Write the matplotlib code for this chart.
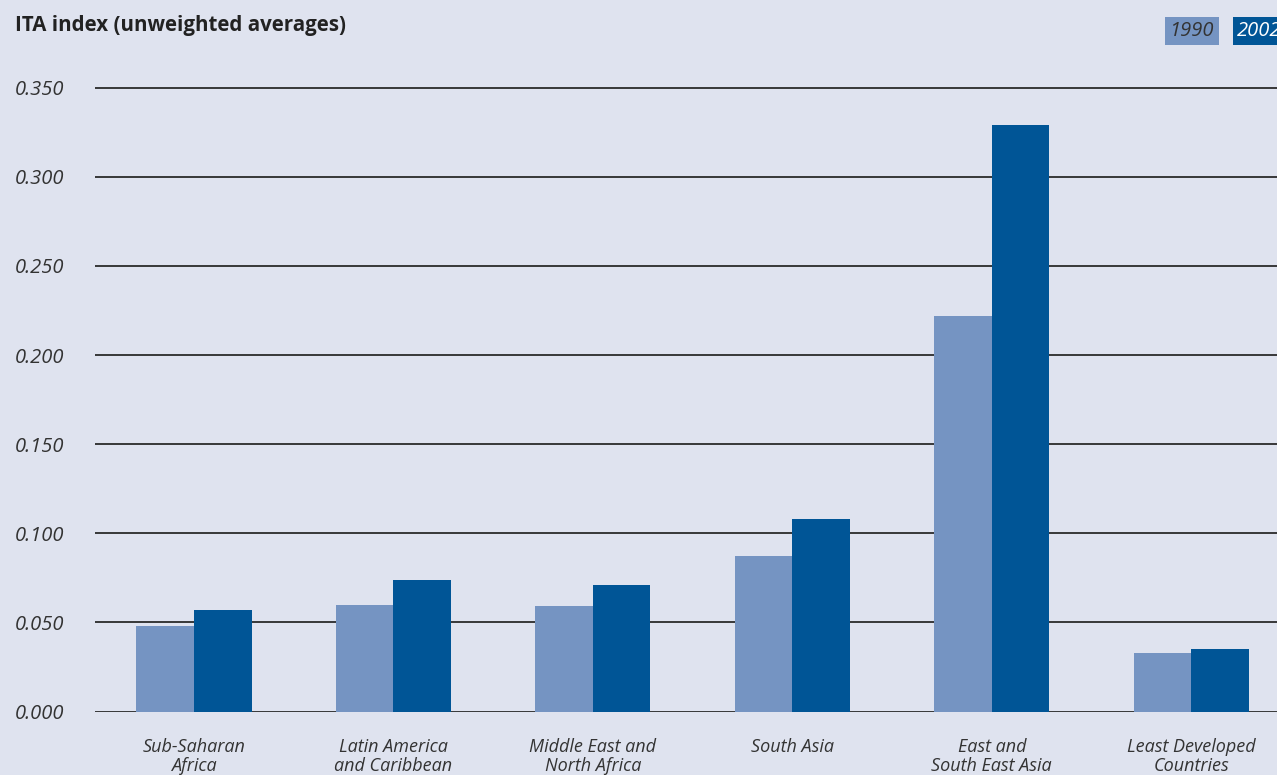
import matplotlib.pyplot as plt
from matplotlib.patches import Rectangle
import numpy as np

categories = ["Sub-Saharan\nAfrica", "Latin America\nand Caribbean", "Middle East and\nNorth Africa",
              "South Asia", "East and\nSouth East Asia", "Least Developed\nCountries"]
ita_1990 = [0.048, 0.060, 0.059, 0.087, 0.222, 0.033]
ita_2002 = [0.057, 0.074, 0.071, 0.108, 0.329, 0.035]
yticks = [0.0, 0.05, 0.10, 0.15, 0.20, 0.25, 0.30, 0.35]
ytick_labels = ["0.000", "0.050", "0.100", "0.150", "0.200", "0.250", "0.300", "0.350"]

bg = "#dfe3ef"
c1990 = "#7594c2"
c2002 = "#005596"
txt = "#333333"

plt.rcParams['font.family'] = ['Open Sans', 'DejaVu Sans']

W, H = 1277, 775
fig = plt.figure(figsize=(W / 100, H / 100), dpi=100, facecolor=bg)
ymax = 0.355
top_px = 711.5 - ymax * 1782
ax = fig.add_axes([95 / W, 1 - 711.5 / H, 1 - 95 / W, (711.5 - top_px) / H])
ax.set_facecolor(bg)

x = np.arange(len(categories))
w = 0.289
ax.bar(x - w / 2, ita_1990, w, color=c1990, zorder=3)
ax.bar(x + w / 2, ita_2002, w, color=c2002, zorder=3)

for t in yticks:
    ax.axhline(t, color="#2a2a2a", lw=1.3, zorder=1)

ax.set_xlim(-0.496, 5.43)
ax.set_ylim(0, ymax)
for s in ax.spines.values():
    s.set_visible(False)

ax.set_yticks(yticks)
ax.set_yticklabels(ytick_labels, fontsize=14.5, style='italic', color=txt, ha='left')
ax.tick_params(axis='y', length=0, pad=80 * 0.72)
ax.set_xticks(x)
ax.set_xticklabels(categories, fontsize=13, style='italic', color=txt, linespacing=1.1)
ax.tick_params(axis='x', length=0, pad=19)

fig.text(15 / W, 1 - 26 / H, "ITA index (unweighted averages)", fontsize=14.8, fontweight='bold',
         color="#222222", va='center', ha='left')

# legend boxes
fig.add_artist(Rectangle((1165 / W, 1 - 45 / H), 54 / W, 28 / H, transform=fig.transFigure,
                         facecolor=c1990, edgecolor='none'))
fig.add_artist(Rectangle((1233 / W, 1 - 45 / H), 60 / W, 28 / H, transform=fig.transFigure,
                         facecolor=c2002, edgecolor='none'))
fig.text(1191 / W, 1 - 31 / H, "1990", fontsize=14.5, style='italic', color=txt, ha='center', va='center')
fig.text(1237 / W, 1 - 31 / H, "2002", fontsize=14.5, style='italic', color='white', ha='left', va='center')

fig.savefig("out.png", dpi=100, facecolor=bg)
